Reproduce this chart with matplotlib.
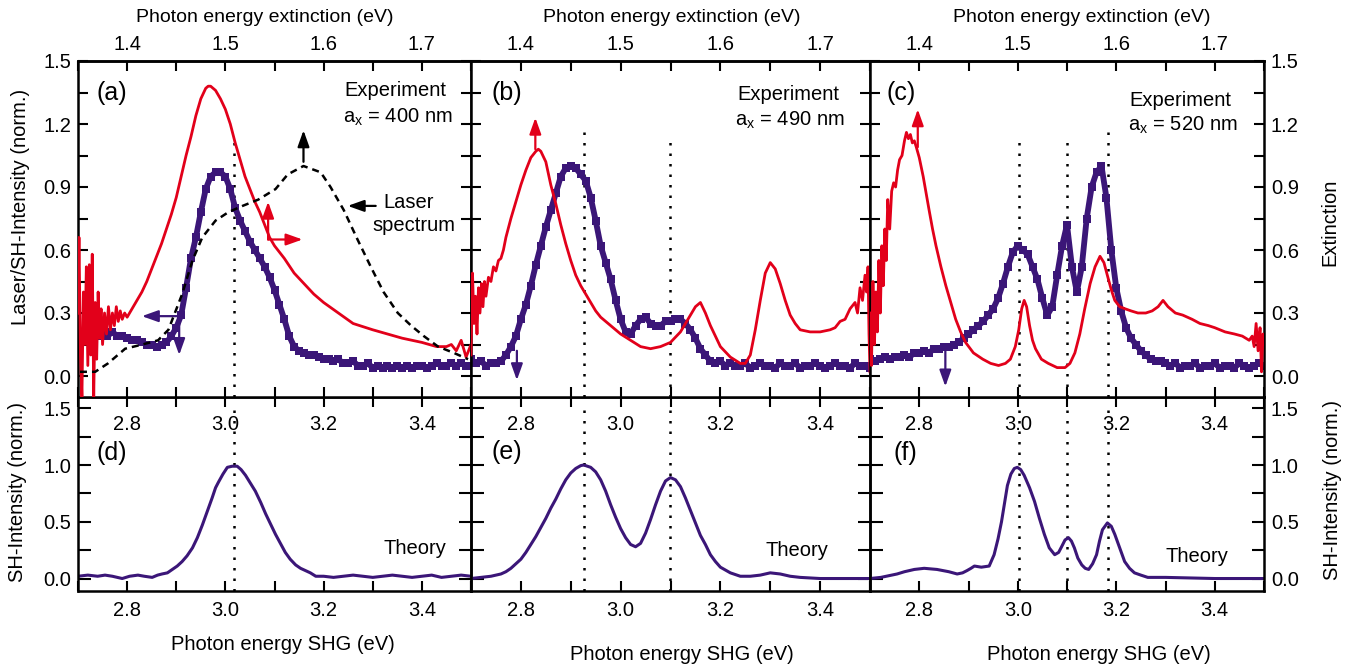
import matplotlib
matplotlib.use('Agg')
import matplotlib.pyplot as plt
from matplotlib.ticker import MultipleLocator, FixedLocator, FormatStrFormatter

plt.rcParams['font.family'] = ['Liberation Sans', 'DejaVu Sans']
plt.rcParams['mathtext.fontset'] = 'custom'
plt.rcParams['mathtext.rm'] = 'Liberation Sans'
plt.rcParams['mathtext.it'] = 'Liberation Sans'

RED = '#e2001a'
PURPLE = '#3b1678'

# ---------------- data (SHG photon energy in eV) ----------------
shg_grid = [round(2.70 + 0.01 * i, 2) for i in range(81)]

# experiment SH intensity (purple squares)
exp_a = [0.20, 0.21, 0.20, 0.22, 0.19, 0.20, 0.19, 0.21, 0.19, 0.19,
         0.18, 0.17, 0.17, 0.16, 0.15, 0.15, 0.14, 0.15, 0.16, 0.19,
         0.23, 0.29, 0.42, 0.56, 0.66, 0.78, 0.89, 0.95, 0.97, 0.97,
         0.95, 0.89, 0.80, 0.74, 0.69, 0.64, 0.60, 0.56, 0.52, 0.47,
         0.41, 0.34, 0.27, 0.19, 0.14, 0.12, 0.11, 0.10, 0.10, 0.09,
         0.08, 0.08, 0.07, 0.08, 0.06, 0.06, 0.07, 0.05, 0.05, 0.06,
         0.04, 0.05, 0.04, 0.05, 0.04, 0.05, 0.04, 0.05, 0.04, 0.05,
         0.05, 0.04, 0.05, 0.06, 0.05, 0.05, 0.06, 0.05, 0.06, 0.05, 0.05]
exp_b = [0.08, 0.06, 0.07, 0.05, 0.06, 0.06, 0.07, 0.10, 0.14, 0.19,
         0.27, 0.34, 0.43, 0.53, 0.62, 0.71, 0.79, 0.87, 0.95, 0.99,
         1.00, 0.99, 0.96, 0.93, 0.85, 0.74, 0.62, 0.54, 0.46, 0.36,
         0.27, 0.21, 0.20, 0.24, 0.27, 0.28, 0.25, 0.24, 0.24, 0.26,
         0.26, 0.27, 0.27, 0.25, 0.22, 0.18, 0.13, 0.10, 0.07, 0.06,
         0.07, 0.05, 0.06, 0.05, 0.05, 0.06, 0.04, 0.05, 0.06, 0.05,
         0.05, 0.04, 0.06, 0.05, 0.05, 0.06, 0.04, 0.05, 0.05, 0.06,
         0.05, 0.04, 0.05, 0.06, 0.05, 0.05, 0.04, 0.06, 0.05, 0.05, 0.04]
exp_c = [0.08, 0.07, 0.08, 0.09, 0.08, 0.09, 0.09, 0.10, 0.09, 0.11,
         0.11, 0.12, 0.11, 0.13, 0.13, 0.14, 0.14, 0.15, 0.16, 0.18,
         0.20, 0.22, 0.24, 0.26, 0.29, 0.32, 0.37, 0.44, 0.52, 0.59,
         0.62, 0.60, 0.58, 0.52, 0.46, 0.37, 0.29, 0.33, 0.48, 0.62,
         0.72, 0.52, 0.40, 0.52, 0.75, 0.90, 0.97, 1.00, 0.85, 0.60,
         0.42, 0.31, 0.23, 0.18, 0.15, 0.12, 0.10, 0.08, 0.07, 0.07,
         0.06, 0.05, 0.06, 0.04, 0.05, 0.05, 0.06, 0.04, 0.05, 0.05,
         0.06, 0.04, 0.05, 0.05, 0.04, 0.06, 0.05, 0.04, 0.05, 0.06, 0.05]

# extinction (red lines)
ext_a_x = [2.700, 2.702, 2.705, 2.708, 2.711, 2.714, 2.717, 2.720, 2.723, 2.726,
           2.729, 2.732, 2.735, 2.738, 2.741, 2.744, 2.747, 2.750, 2.754, 2.758,
           2.762, 2.766, 2.770, 2.774, 2.778, 2.782, 2.786, 2.790, 2.795,
           2.80, 2.81, 2.82, 2.83, 2.84, 2.85, 2.86, 2.87, 2.88, 2.89, 2.90,
           2.91, 2.92, 2.93, 2.94, 2.95, 2.96, 2.965, 2.97, 2.98, 2.99, 3.00,
           3.01, 3.02, 3.03, 3.04, 3.05, 3.06, 3.07, 3.08, 3.09, 3.10, 3.12,
           3.14, 3.16, 3.18, 3.20, 3.23, 3.26, 3.30, 3.33, 3.36, 3.40, 3.43,
           3.45, 3.46, 3.47, 3.48, 3.49, 3.50]
ext_a_y = [0.30, 0.66, 0.10, -0.10, 0.40, 0.15, 0.52, 0.05, 0.53, 0.10,
           0.58, -0.10, 0.35, 0.08, 0.40, 0.18, 0.32, 0.15, 0.30, 0.20,
           0.33, 0.22, 0.30, 0.24, 0.33, 0.26, 0.31, 0.27, 0.30,
           0.28, 0.32, 0.36, 0.40, 0.45, 0.51, 0.57, 0.63, 0.70, 0.77, 0.85,
           0.95, 1.05, 1.14, 1.24, 1.32, 1.37, 1.38, 1.38, 1.36, 1.32, 1.27,
           1.20, 1.11, 1.03, 0.95, 0.89, 0.83, 0.78, 0.72, 0.66, 0.62, 0.56,
           0.49, 0.44, 0.39, 0.35, 0.30, 0.25, 0.22, 0.20, 0.18, 0.16, 0.14,
           0.14, 0.15, 0.12, 0.17, 0.09, 0.15]

ext_b_x = [2.700, 2.703, 2.706, 2.709, 2.712, 2.715, 2.718, 2.721, 2.724, 2.727,
           2.730, 2.735, 2.740, 2.745, 2.750, 2.755, 2.760, 2.765, 2.770, 2.780,
           2.790, 2.800, 2.810, 2.820, 2.830, 2.835, 2.840, 2.850, 2.860, 2.870,
           2.880, 2.890, 2.900, 2.910, 2.920, 2.930, 2.940, 2.950, 2.960, 2.980,
           3.000, 3.020, 3.040, 3.060, 3.080, 3.100, 3.120, 3.140, 3.150, 3.160,
           3.170, 3.180, 3.190, 3.200, 3.220, 3.240, 3.250, 3.260, 3.270, 3.280,
           3.290, 3.300, 3.310, 3.320, 3.330, 3.340, 3.350, 3.360, 3.380, 3.400,
           3.420, 3.430, 3.440, 3.450, 3.460, 3.470, 3.475, 3.480, 3.485, 3.490,
           3.493, 3.496, 3.498, 3.500]
ext_b_y = [0.10, 0.49, 0.25, 0.38, 0.20, 0.42, 0.30, 0.44, 0.33, 0.45,
           0.38, 0.47, 0.45, 0.52, 0.50, 0.55, 0.56, 0.60, 0.66, 0.75,
           0.83, 0.91, 0.98, 1.04, 1.07, 1.08, 1.07, 1.02, 0.91, 0.82,
           0.72, 0.63, 0.55, 0.48, 0.43, 0.39, 0.35, 0.31, 0.28, 0.24,
           0.20, 0.17, 0.14, 0.13, 0.14, 0.16, 0.21, 0.29, 0.33, 0.35,
           0.30, 0.24, 0.19, 0.14, 0.09, 0.06, 0.06, 0.10, 0.22, 0.36,
           0.49, 0.54, 0.51, 0.44, 0.36, 0.29, 0.25, 0.22, 0.21, 0.21,
           0.22, 0.23, 0.26, 0.27, 0.32, 0.35, 0.30, 0.42, 0.36, 0.48,
           0.40, 0.52, 0.20, 0.02]

ext_c_x = [2.700, 2.703, 2.706, 2.709, 2.712, 2.715, 2.718, 2.721, 2.724, 2.727,
           2.730, 2.733, 2.736, 2.740, 2.744, 2.748, 2.752, 2.756, 2.760, 2.765,
           2.770, 2.774, 2.778, 2.782, 2.786, 2.790, 2.794, 2.800, 2.808, 2.814,
           2.820, 2.827, 2.834, 2.844, 2.854, 2.864, 2.874, 2.884, 2.894, 2.910,
           2.929, 2.945, 2.961, 2.975, 2.985, 2.995, 3.002, 3.008, 3.013, 3.018,
           3.024, 3.030, 3.036, 3.048, 3.062, 3.080, 3.096, 3.106, 3.116, 3.126,
           3.136, 3.147, 3.157, 3.167, 3.175, 3.183, 3.190, 3.197, 3.207, 3.218,
           3.230, 3.244, 3.260, 3.273, 3.285, 3.295, 3.305, 3.320, 3.335, 3.354,
           3.370, 3.387, 3.400, 3.421, 3.440, 3.456, 3.470, 3.476, 3.480, 3.484,
           3.488, 3.492, 3.495, 3.498, 3.500]
ext_c_y = [0.30, 0.05, 0.45, 0.15, 0.40, 0.21, 0.55, 0.30, 0.62, 0.43,
           0.70, 0.55, 0.84, 0.70, 0.88, 0.92, 0.90, 0.98, 1.03, 1.05,
           1.12, 1.16, 1.13, 1.15, 1.11, 1.12, 1.09, 1.04, 0.95, 0.87,
           0.79, 0.70, 0.62, 0.52, 0.43, 0.35, 0.27, 0.21, 0.16, 0.11,
           0.08, 0.06, 0.05, 0.06, 0.08, 0.14, 0.22, 0.32, 0.36, 0.33,
           0.24, 0.17, 0.13, 0.08, 0.06, 0.04, 0.04, 0.06, 0.11, 0.20,
           0.32, 0.44, 0.52, 0.57, 0.54, 0.47, 0.41, 0.36, 0.33, 0.32,
           0.31, 0.30, 0.30, 0.31, 0.33, 0.36, 0.33, 0.30, 0.29, 0.27,
           0.25, 0.24, 0.23, 0.21, 0.20, 0.19, 0.17, 0.19, 0.14, 0.25,
           0.12, 0.23, 0.02, 0.20, 0.15]

# laser spectrum (panel a, black dashed)
laser_x = [2.704, 2.735, 2.761, 2.796, 2.831, 2.863, 2.884, 2.912, 2.933, 2.953,
           2.980, 3.006, 3.035, 3.067, 3.102, 3.127, 3.159, 3.194, 3.214, 3.241,
           3.269, 3.296, 3.322, 3.351, 3.378, 3.404, 3.433, 3.465, 3.494]
laser_y = [0.02, 0.02, 0.06, 0.13, 0.15, 0.17, 0.22, 0.39, 0.55, 0.66,
           0.74, 0.78, 0.81, 0.84, 0.89, 0.96, 1.00, 0.97, 0.90, 0.79,
           0.65, 0.52, 0.40, 0.30, 0.24, 0.19, 0.14, 0.11, 0.08]

# theory SH intensity (bottom panels)
th_d_x = [2.70, 2.72, 2.74, 2.755, 2.77, 2.79, 2.805, 2.822, 2.835, 2.851,
          2.862, 2.871, 2.882, 2.892, 2.902, 2.912, 2.922, 2.933, 2.943, 2.953,
          2.963, 2.973, 2.98, 2.986, 2.995, 3.004, 3.014, 3.024, 3.032, 3.041,
          3.051, 3.061, 3.072, 3.082, 3.092, 3.102, 3.112, 3.122, 3.132, 3.143,
          3.153, 3.163, 3.173, 3.184, 3.20, 3.22, 3.24, 3.26, 3.28, 3.30,
          3.32, 3.34, 3.36, 3.38, 3.40, 3.42, 3.44, 3.46, 3.48, 3.50]
th_d_y = [0.02, 0.03, 0.02, 0.03, 0.02, 0.00, 0.02, 0.03, 0.02, 0.01,
          0.03, 0.04, 0.05, 0.08, 0.11, 0.15, 0.20, 0.27, 0.36, 0.47,
          0.59, 0.71, 0.80, 0.85, 0.92, 0.98, 0.99, 0.99, 0.96, 0.91,
          0.84, 0.77, 0.67, 0.57, 0.48, 0.39, 0.31, 0.23, 0.17, 0.12,
          0.09, 0.07, 0.05, 0.02, 0.02, 0.01, 0.02, 0.03, 0.02, 0.01,
          0.02, 0.03, 0.02, 0.01, 0.02, 0.03, 0.01, 0.02, 0.03, 0.02]

th_e_x = [2.70, 2.72, 2.74, 2.76, 2.77, 2.78, 2.79, 2.80, 2.81, 2.82,
          2.83, 2.84, 2.85, 2.86, 2.87, 2.88, 2.89, 2.90, 2.91, 2.92,
          2.925, 2.93, 2.94, 2.95, 2.96, 2.97, 2.98, 2.99, 3.00, 3.01,
          3.02, 3.03, 3.04, 3.05, 3.06, 3.07, 3.08, 3.09, 3.10, 3.11,
          3.12, 3.13, 3.14, 3.15, 3.16, 3.17, 3.18, 3.19, 3.20, 3.22,
          3.24, 3.26, 3.28, 3.30, 3.32, 3.34, 3.36, 3.40, 3.45, 3.50]
th_e_y = [0.00, 0.01, 0.02, 0.04, 0.06, 0.09, 0.13, 0.17, 0.23, 0.30,
          0.37, 0.45, 0.53, 0.62, 0.70, 0.79, 0.87, 0.93, 0.97, 0.995,
          1.00, 0.995, 0.98, 0.94, 0.87, 0.77, 0.65, 0.54, 0.44, 0.36,
          0.30, 0.28, 0.31, 0.40, 0.52, 0.65, 0.77, 0.86, 0.89, 0.87,
          0.81, 0.71, 0.60, 0.49, 0.38, 0.30, 0.21, 0.15, 0.10, 0.05,
          0.02, 0.02, 0.03, 0.05, 0.04, 0.02, 0.01, 0.00, 0.00, 0.00]

th_f_x = [2.70, 2.722, 2.755, 2.77, 2.79, 2.81, 2.836, 2.86, 2.877, 2.888,
          2.897, 2.905, 2.912, 2.926, 2.942, 2.952, 2.96, 2.967, 2.973, 2.979,
          2.986, 2.993, 2.999, 3.006, 3.013, 3.024, 3.034, 3.044, 3.054, 3.064,
          3.075, 3.083, 3.089, 3.096, 3.103, 3.109, 3.115, 3.122, 3.130, 3.137,
          3.144, 3.152, 3.160, 3.166, 3.172, 3.182, 3.190, 3.197, 3.207, 3.217,
          3.227, 3.237, 3.25, 3.264, 3.30, 3.40, 3.50]
th_f_y = [0.00, 0.01, 0.04, 0.06, 0.08, 0.09, 0.08, 0.06, 0.04, 0.05,
          0.07, 0.09, 0.11, 0.10, 0.11, 0.21, 0.35, 0.50, 0.66, 0.82,
          0.92, 0.97, 0.98, 0.96, 0.91, 0.80, 0.68, 0.53, 0.39, 0.27,
          0.21, 0.23, 0.28, 0.34, 0.36, 0.33, 0.27, 0.18, 0.12, 0.09,
          0.08, 0.13, 0.21, 0.33, 0.43, 0.49, 0.46, 0.39, 0.27, 0.15,
          0.09, 0.05, 0.03, 0.01, 0.01, 0.00, 0.00]

# resonance markers (SHG eV) and top of dotted lines in upper panels
res_a = [3.018]
res_b = [2.927, 3.099]
res_c = [3.003, 3.101, 3.183]
res_top_a = [1.12]
res_top_b = [1.16, 1.13]
res_top_c = [1.14, 1.14, 1.16]

shg_ticks = [2.8, 3.0, 3.2, 3.4]
ext_ticks = [1.4, 1.5, 1.6, 1.7]

# ---------------- figure ----------------
W, H = 1351, 668
fig = plt.figure(figsize=(W / 100, H / 100), dpi=100)


def rect(l, t, r, b):
    return [l / W, 1 - b / H, (r - l) / W, (b - t) / H]


def ftext(x, y, s, **kw):
    kw.setdefault('fontsize', 14.5)
    fig.text(x / W, 1 - y / H, s, ha='center', va='center', **kw)


TICKW = 1.5
SPW = 1.8


def style_top(ax, left_lab, right_lab):
    ax.set_xlim(2.7, 3.5)
    ax.set_ylim(-0.1, 1.5)
    ax.xaxis.set_major_locator(FixedLocator(shg_ticks))
    ax.xaxis.set_minor_locator(MultipleLocator(0.1))
    ax.xaxis.set_major_formatter(FormatStrFormatter('%.1f'))
    ax.yaxis.set_major_locator(MultipleLocator(0.3))
    ax.yaxis.set_minor_locator(MultipleLocator(0.15))
    ax.yaxis.set_major_formatter(FormatStrFormatter('%.1f'))
    ax.tick_params(which='both', direction='in', length=7, width=TICKW,
                   top=False, bottom=True, left=True, right=True,
                   labelleft=left_lab, labelright=right_lab, labelsize=14.5)
    ax.tick_params(axis='x', which='both', pad=13)
    ax.tick_params(axis='y', which='both', pad=5)
    for s in ax.spines.values():
        s.set_linewidth(SPW)
    sec = ax.secondary_xaxis('top', functions=(lambda x: x / 2, lambda x: x * 2))
    sec.xaxis.set_major_locator(FixedLocator(ext_ticks))
    sec.xaxis.set_minor_locator(MultipleLocator(0.05))
    sec.xaxis.set_major_formatter(FormatStrFormatter('%.1f'))
    sec.tick_params(which='both', direction='in', length=7, width=TICKW,
                    labelsize=14.5, pad=5)
    sec.spines['top'].set_linewidth(SPW)


def style_bot(ax, left_lab, right_lab):
    ax.set_facecolor('none')
    ax.set_xlim(2.7, 3.5)
    ax.set_ylim(-0.11, 1.6)
    ax.xaxis.set_major_locator(FixedLocator(shg_ticks))
    ax.xaxis.set_minor_locator(MultipleLocator(0.1))
    ax.xaxis.set_major_formatter(FormatStrFormatter('%.1f'))
    ax.yaxis.set_major_locator(MultipleLocator(0.5))
    ax.yaxis.set_minor_locator(MultipleLocator(0.25))
    ax.yaxis.set_major_formatter(FormatStrFormatter('%.1f'))
    ax.tick_params(which='both', direction='in', width=TICKW,
                   top=True, bottom=True, left=True, right=True,
                   labelleft=left_lab, labelright=right_lab, labelsize=14.5)
    ax.tick_params(axis='x', which='both', length=7, pad=7)
    ax.tick_params(axis='y', which='both', length=9, pad=5)
    for s in ax.spines.values():
        s.set_linewidth(SPW)


def arrow(ax, tail, tip, color):
    ax.annotate('', xy=tip, xytext=tail,
                arrowprops=dict(arrowstyle='-|>,head_length=0.7,head_width=0.25',
                                color=color, lw=1.6, mutation_scale=14,
                                shrinkA=0, shrinkB=0))


dot_style = (0, (1, 3.2))

# bottom panels first (transparent) so upper tick labels stay visible
ax_d = fig.add_axes(rect(78, 397, 471, 591))
ax_e = fig.add_axes(rect(471, 397, 870, 591))
ax_f = fig.add_axes(rect(870, 397, 1264, 591))
ax_a = fig.add_axes(rect(78, 61, 471, 397))
ax_b = fig.add_axes(rect(471, 61, 870, 397))
ax_c = fig.add_axes(rect(870, 61, 1264, 397))

style_top(ax_a, True, False)
style_top(ax_b, False, False)
style_top(ax_c, False, True)
style_bot(ax_d, True, False)
style_bot(ax_e, False, False)
style_bot(ax_f, False, True)

for ax, exp, ex_x, ex_y, res, rtop in [
        (ax_a, exp_a, ext_a_x, ext_a_y, res_a, res_top_a),
        (ax_b, exp_b, ext_b_x, ext_b_y, res_b, res_top_b),
        (ax_c, exp_c, ext_c_x, ext_c_y, res_c, res_top_c)]:
    ax.vlines(res, -0.1, rtop, colors='black', linestyles=dot_style, lw=1.8, zorder=1)
    ax.plot(shg_grid, exp, color=PURPLE, lw=4.2, marker='s', ms=5.5, mew=0, zorder=2)
    ax.plot(ex_x, ex_y, color=RED, lw=2.0, zorder=3)

ax_a.plot(laser_x, laser_y, color='black', lw=1.8, ls=(0, (2.8, 2.0)), zorder=4)

for ax, tx, ty, res in [(ax_d, th_d_x, th_d_y, res_a),
                        (ax_e, th_e_x, th_e_y, res_b),
                        (ax_f, th_f_x, th_f_y, res_c)]:
    ax.vlines(res, -0.11, 1.55, colors='black', linestyles=dot_style, lw=1.8, zorder=1)
    ax.plot(tx, ty, color=PURPLE, lw=2.2, zorder=2)

# arrows
arrow(ax_a, (2.901, 0.285), (2.830, 0.285), PURPLE)
arrow(ax_a, (2.906, 0.30), (2.906, 0.10), PURPLE)
arrow(ax_a, (3.087, 0.65), (3.087, 0.83), RED)
arrow(ax_a, (3.087, 0.65), (3.157, 0.65), RED)
arrow(ax_a, (3.159, 1.02), (3.159, 1.17), 'black')
arrow(ax_a, (3.306, 0.81), (3.249, 0.81), 'black')
arrow(ax_b, (2.829, 1.08), (2.829, 1.23), RED)
arrow(ax_b, (2.792, 0.12), (2.792, -0.02), PURPLE)
arrow(ax_c, (2.797, 1.09), (2.797, 1.27), RED)
arrow(ax_c, (2.853, 0.13), (2.853, -0.05), PURPLE)

# texts
for xc in (265, 672, 1082):
    ftext(xc, 18, 'Photon energy extinction (eV)', fontsize=14)
ftext(283, 645, 'Photon energy SHG (eV)')
ftext(682, 655, 'Photon energy SHG (eV)')
ftext(1099, 655, 'Photon energy SHG (eV)')
ftext(21, 207, 'Laser/SH-Intensity (norm.)', rotation=90)
ftext(18, 492, 'SH-Intensity (norm.)', rotation=90)
ftext(1333, 490, 'SH-Intensity (norm.)', rotation=90)
ftext(1330, 222, 'Extinction', rotation=90)

for (x, y, s) in [(112, 93, '(a)'), (507, 93, '(b)'), (901, 93, '(c)'),
                  (112, 453, '(d)'), (507, 452, '(e)'), (905, 453, '(f)')]:
    ftext(x, y, s, fontsize=18)

ftext(395, 91, 'Experiment')
ftext(398, 117, r'a$_\mathregular{x}$ = 400 nm')
ftext(788, 95, 'Experiment')
ftext(790, 120, r'a$_\mathregular{x}$ = 490 nm')
ftext(1180, 100, 'Experiment')
ftext(1183, 125, r'a$_\mathregular{x}$ = 520 nm')
ftext(409, 203, 'Laser')
ftext(414, 226, 'spectrum')
ftext(415, 549, 'Theory')
ftext(797, 550, 'Theory')
ftext(1197, 557, 'Theory')

fig.savefig('out.png', dpi=100)
